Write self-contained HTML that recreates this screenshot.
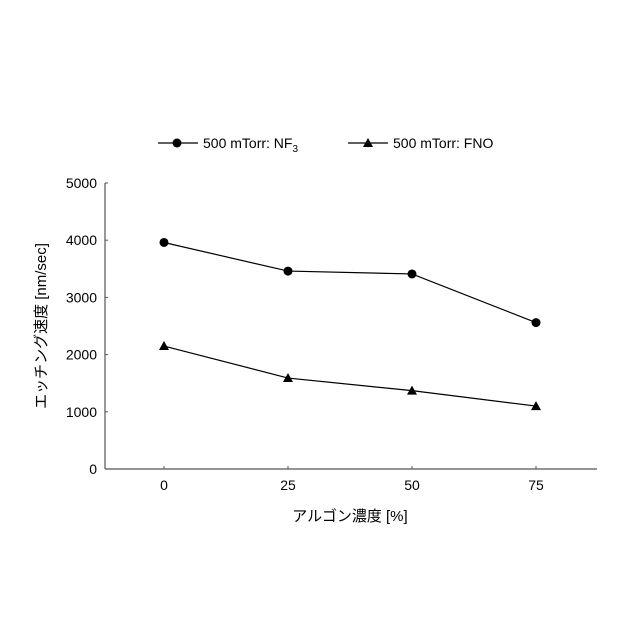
<!DOCTYPE html>
<html><head><meta charset="utf-8"><style>
body{margin:0;background:#fff}
svg{display:block;font-family:"Liberation Sans","Noto Sans CJK JP",sans-serif}
</style></head><body>
<svg id="chart" width="640" height="640" viewBox="0 0 640 640">
<g id="legend">
 <g>
  <line x1="158" y1="143" x2="198" y2="143" stroke="#000" stroke-width="1.2"/>
  <circle cx="177" cy="143" r="4.5" fill="#000"/>
  <text x="203" y="148" font-size="14" fill="#000">500 mTorr: NF<tspan font-size="10" dy="4">3</tspan></text>
 </g>
 <g>
  <line x1="348" y1="143" x2="388" y2="143" stroke="#000" stroke-width="1.2"/>
  <path d="M368,138 L373,147 L363,147Z" fill="#000"/>
  <text x="393" y="148" font-size="14" fill="#000">500 mTorr: FNO</text>
 </g>
</g>
<g id="axes"></g>
<g id="series"></g>
<text x="350" y="521" text-anchor="middle" font-size="15" fill="#000">アルゴン濃度 [%]</text>
<text transform="translate(46,326) rotate(-90)" text-anchor="middle" font-size="15" fill="#000">エッチング速度 [nm/sec]</text>
</svg>
<script>
const categories=[0,25,50,75];
const nf3Values=[3960,3460,3410,2560];
const fnoValues=[2150,1590,1370,1100];
const yTicks=[0,1000,2000,3000,4000,5000];
const NS="http://www.w3.org/2000/svg";
const X0=105,X1=597,Y0=469,Y1=183;
function xs(i){return 164+i*124;}
function ys(v){return Y0-(v/5000)*(Y0-Y1);}
function mk(tag,attrs,parent){const e=document.createElementNS(NS,tag);for(const k in attrs)e.setAttribute(k,attrs[k]);parent.appendChild(e);return e;}
const axes=document.getElementById('axes');
let yl=mk('line',{x1:X0,y1:Y1,x2:X0,y2:Y0,stroke:'#555','stroke-width':1.2},axes);


let xl=mk('line',{x1:X0,y1:Y0,x2:X1,y2:Y0,stroke:'#555','stroke-width':1.2},axes);


yTicks.forEach(v=>{
 mk('line',{x1:X0,y1:ys(v),x2:X0+3,y2:ys(v),stroke:'#555'},axes);
 const t=mk('text',{x:97,y:ys(v)+5,'text-anchor':'end','font-size':14,fill:'#000'},axes);
 t.textContent=v;
 
 
});
categories.forEach((c,i)=>{
 mk('line',{x1:xs(i),y1:Y0,x2:xs(i),y2:Y0-3,stroke:'#555'},axes);
 const t=mk('text',{x:xs(i),y:490,'text-anchor':'middle','font-size':14,fill:'#000'},axes);
 t.textContent=c;
 
 
});
const series=document.getElementById('series');
function draw(vals,name,shape){
 const pl=mk('polyline',{points:vals.map((v,i)=>xs(i)+','+ys(v)).join(' '),fill:'none',stroke:'#000','stroke-width':1.2},series);
 
 
 vals.forEach((v,i)=>{
  let m;
  if(shape==='c') m=mk('circle',{cx:xs(i),cy:ys(v),r:4.5,fill:'#000'},series);
  else {const x=xs(i),y=ys(v);m=mk('path',{d:`M${x},${y-5} L${x+5},${y+4} L${x-5},${y+4}Z`,fill:'#000'},series);}
  
  
 });
}
draw(nf3Values,'nf3','c');
draw(fnoValues,'fno','t');
</script>
</body></html>
